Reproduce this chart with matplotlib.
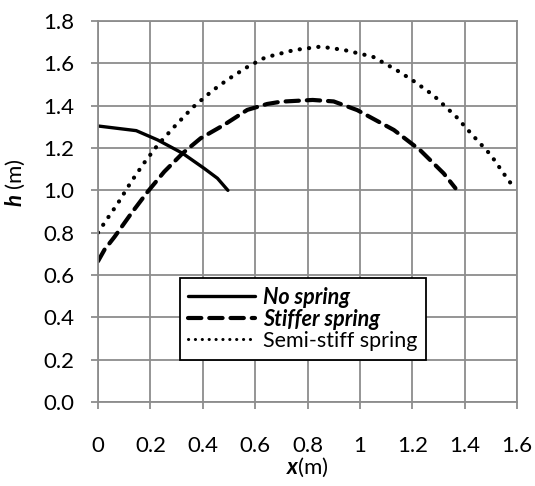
import matplotlib.pyplot as plt
import matplotlib as mpl

# curves
no_x = [0.0, 0.146, 0.228, 0.323, 0.405, 0.456, 0.496]
no_h = [1.304, 1.282, 1.238, 1.175, 1.104, 1.057, 1.0]

stiff_x = [0.0, 0.025, 0.063, 0.127, 0.19, 0.253, 0.323, 0.392, 0.481, 0.57, 0.646, 0.70, 0.82,
           0.90, 0.99, 1.13, 1.23, 1.32, 1.365]
stiff_h = [0.665, 0.72, 0.78, 0.891, 0.994, 1.088, 1.175, 1.246, 1.309, 1.38, 1.408, 1.419, 1.427,
           1.42, 1.379, 1.285, 1.19, 1.08, 1.01]

semi_x = [0.0, 0.025, 0.076, 0.127, 0.177, 0.228, 0.291, 0.362, 0.437, 0.496, 0.572, 0.639, 0.75,
          0.85, 0.94, 1.05, 1.14, 1.20, 1.28, 1.37, 1.43, 1.50, 1.555, 1.59]
semi_h = [0.80, 0.847, 0.939, 1.041, 1.131, 1.214, 1.30, 1.392, 1.471, 1.524, 1.584, 1.628, 1.663,
          1.679, 1.663, 1.631, 1.568, 1.521, 1.45, 1.345, 1.261, 1.167, 1.069, 1.01]

xticks = [0, 0.2, 0.4, 0.6, 0.8, 1.0, 1.2, 1.4, 1.6]
xlabels = ["0", "0.2", "0.4", "0.6", "0.8", "1", "1.2", "1.4", "1.6"]
yticks = [0.0, 0.2, 0.4, 0.6, 0.8, 1.0, 1.2, 1.4, 1.6, 1.8]

plt.rcParams['font.family'] = ['Lato', 'DejaVu Sans']
plt.rcParams['mathtext.fontset'] = 'custom'
plt.rcParams['mathtext.bfit'] = 'Lato:bold:italic'
plt.rcParams['mathtext.rm'] = 'Lato'

fig = plt.figure(figsize=(5.35, 4.86), dpi=100)
ax = fig.add_axes([98/535, 84/486, 419/535, 381/486])

grey = '#8c8c8c'
ax.plot(no_x, no_h, color='black', lw=2.4, solid_capstyle='round', label='No spring')
ax.plot(stiff_x, stiff_h, color='black', lw=3.0, dashes=(3.2, 1.9), dash_capstyle='round',
        label='Stiffer spring')
ax.plot(semi_x, semi_h, color='black', lw=3.0, dashes=(0.05, 2.2), dash_capstyle='round',
        label='Semi-stiff spring')

ax.set_xlim(0, 1.6)
ax.set_ylim(0, 1.8)
ax.set_xticks(xticks)
ax.set_xticklabels(xlabels)
ax.set_yticks(yticks)
ax.set_yticklabels(["%.1f" % v for v in yticks])
ax.grid(True, color=grey, lw=1.3)
ax.set_axisbelow(True)
for s in ax.spines.values():
    s.set_color(grey)
    s.set_linewidth(1.3)
ax.tick_params(axis='both', direction='out', length=5.2, width=1.3, color=grey, labelsize=16)
ax.tick_params(axis='x', pad=19)
ax.tick_params(axis='y', pad=12)

ax.set_xlabel(r"$\mathbfit{x}$(m)", fontsize=16, labelpad=0)
ax.set_ylabel(r"$\mathbfit{h}$ (m)", fontsize=16)
ax.yaxis.set_label_coords(-0.17, 0.575)

leg = ax.legend(loc='upper left', bbox_to_anchor=(0.195, 0.325, 0.0, 0.0), borderaxespad=0,
                fancybox=False, framealpha=1, edgecolor='black', fontsize=15.5, handlelength=3.1,
                handletextpad=0.35, labelspacing=0.05, borderpad=0.4)
leg.get_frame().set_linewidth(1.3)
texts = leg.get_texts()
texts[0].set_fontweight('bold'); texts[0].set_fontstyle('italic')
texts[1].set_fontweight('bold'); texts[1].set_fontstyle('italic')
lines = leg.get_lines()
lines[2].set_linewidth(2.2)

fig.savefig('out.png', dpi=100)
